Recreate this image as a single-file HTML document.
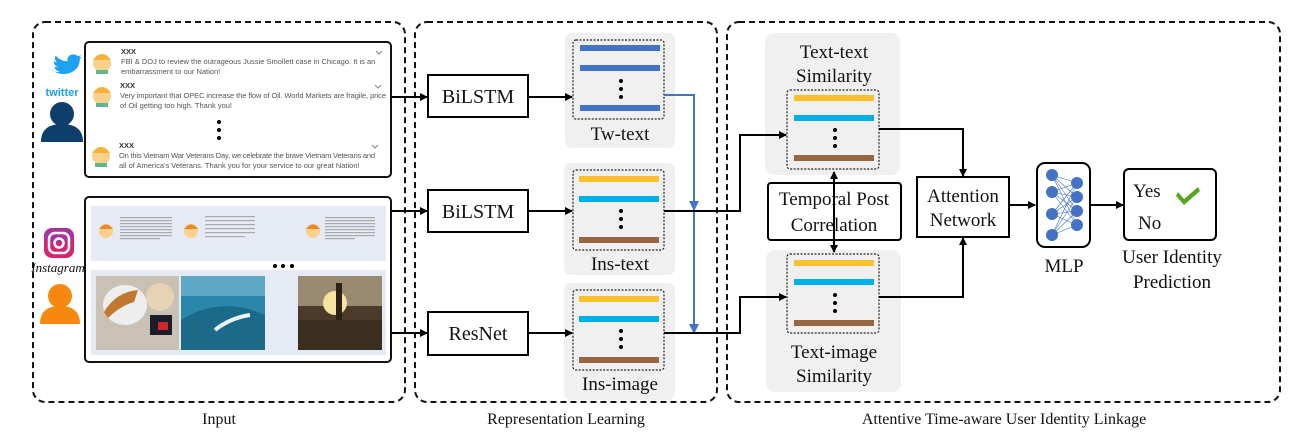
<!DOCTYPE html>
<html><head><meta charset="utf-8"><style>
html,body{margin:0;padding:0;background:#fff;}
svg{display:block;}
.s{font-family:"Liberation Serif",serif;fill:#111;}
.a{font-family:"Liberation Sans",sans-serif;fill:#555;}
</style></head><body>
<svg width="1315" height="445" viewBox="0 0 1315 445" xmlns="http://www.w3.org/2000/svg">
<defs>
<marker id="ar" markerWidth="8" markerHeight="8" refX="7" refY="4" orient="auto" markerUnits="userSpaceOnUse"><path d="M0,0 L8,4 L0,8 z" fill="#000"/></marker>
<marker id="ab" markerWidth="10" markerHeight="10" refX="9" refY="5" orient="auto" markerUnits="userSpaceOnUse"><path d="M0,0 L10,5 L0,10 z" fill="#4472C4"/></marker>
<marker id="as" markerWidth="8" markerHeight="8" refX="1" refY="4" orient="auto" markerUnits="userSpaceOnUse"><path d="M8,0 L0,4 L8,8 z" fill="#000"/></marker>
</defs>
<g fill="none" stroke="#111" stroke-width="2" stroke-dasharray="6,4">
<rect x="33" y="22" width="372" height="380" rx="12"/>
<rect x="415" y="22" width="302" height="380" rx="12"/>
<rect x="727" y="22" width="553" height="380" rx="12"/>
</g>
<text class="s" x="219" y="424" font-size="16" text-anchor="middle">Input</text>
<text class="s" x="566" y="424" font-size="16" text-anchor="middle">Representation Learning</text>
<text class="s" x="1004" y="424" font-size="16" text-anchor="middle">Attentive Time-aware User Identity Linkage</text>

<g transform="translate(50,50) scale(0.62) translate(-47,-45)">
<path d="M47,76 q8,6 16,4 q-8,-2 -9,-8 q3,1 5,0 q-6,-2 -6,-9 q2,2 5,2 q-5,-5 -2,-11 q8,9 19,9 q-1,-9 9,-11 q5,0 8,3 l5,-2 l-3,4 l4,-1 l-3,4 q0,16 -16,22 q-14,5 -28,-4z" fill="#1DA1F2"/>
</g>
<text x="62" y="96" font-family="Liberation Sans,sans-serif" font-weight="bold" font-size="11" fill="#1DA1F2" text-anchor="middle">twitter</text>
<circle cx="62" cy="114" r="12" fill="#0e3e6b"/>
<path d="M41,142 q0,-18 21,-18 q21,0 21,18z" fill="#0e3e6b"/>
<rect x="44" y="228" width="30" height="30" rx="8" fill="#d6246e"/>
<rect x="44" y="228" width="30" height="15" rx="8" fill="#8a3ab9" opacity="0.6"/>
<rect x="49" y="233" width="20" height="20" rx="6" fill="none" stroke="#fff" stroke-width="2.5"/>
<circle cx="59" cy="243" r="4.5" fill="none" stroke="#fff" stroke-width="2.5"/>
<text x="58" y="272" font-family="Liberation Serif,serif" font-style="italic" font-size="13" fill="#111" text-anchor="middle">Instagram</text>
<circle cx="60" cy="296" r="12" fill="#f7880f"/>
<path d="M40,324 q0,-18 20,-18 q20,0 20,18z" fill="#f7880f"/>

<rect x="85" y="42" width="306" height="135" rx="4" fill="#fff" stroke="#111" stroke-width="2"/>
<g>
<circle cx="102" cy="63" r="9" fill="#fbd08a"/><path d="M93,60 q9,-12 18,0z" fill="#f4b23a"/><rect x="96" y="70" width="12" height="4" fill="#5cb88a"/>
<circle cx="102" cy="96" r="9" fill="#fbd08a"/><path d="M93,93 q9,-12 18,0z" fill="#f4b23a"/><rect x="96" y="103" width="12" height="4" fill="#5cb88a"/>
<circle cx="101" cy="156" r="9" fill="#fbd08a"/><path d="M92,153 q9,-12 18,0z" fill="#f4b23a"/><rect x="95" y="163" width="12" height="4" fill="#5cb88a"/>
</g>
<g class="a" font-size="7.5">
<text x="121" y="54" font-weight="bold" fill="#333">XXX</text>
<text x="121" y="64">FBI &amp; DOJ to review the outrageous Jussie Smollett case in Chicago. It is an</text>
<text x="121" y="74">embarrassment to our Nation!</text>
<text x="120" y="88" font-weight="bold" fill="#333">XXX</text>
<text x="120" y="98" textLength="266">Very important that OPEC increase the flow of Oil. World Markets are fragile, price</text>
<text x="120" y="108">of Oil getting too high. Thank you!</text>
<text x="119" y="148" font-weight="bold" fill="#333">XXX</text>
<text x="119" y="158" textLength="256">On this Vietnam War Veterans Day, we celebrate the brave Vietnam Veterans and</text>
<text x="119" y="168">all of America's Veterans. Thank you for your service to our great Nation!</text>
</g>
<g fill="none" stroke="#888" stroke-width="1"><path d="M376,51 l3,3 l3,-3"/><path d="M375,85 l3,3 l3,-3"/><path d="M372,145 l3,3 l3,-3"/></g>
<circle cx="219" cy="122" r="2" fill="#000"/><circle cx="219" cy="130" r="2" fill="#000"/><circle cx="219" cy="138" r="2" fill="#000"/>

<rect x="85" y="197" width="306" height="165" rx="4" fill="#fff" stroke="#111" stroke-width="2"/>
<rect x="91" y="206" width="295" height="55" fill="#e5eaf4"/>
<rect x="91" y="270" width="295" height="85" fill="#e5eaf4"/>
<g><circle cx="106" cy="231" r="7" fill="#fbd08a"/><path d="M99,229 q7,-9 14,0z" fill="#e8892a"/>
<circle cx="191" cy="231" r="7" fill="#fbd08a"/><path d="M184,229 q7,-9 14,0z" fill="#e8892a"/>
<circle cx="313" cy="231" r="7" fill="#fbd08a"/><path d="M306,229 q7,-9 14,0z" fill="#e8892a"/></g>
<g fill="#aaa"><rect x="120" y="217" width="52" height="1.2"/><rect x="120" y="220" width="52" height="1.2"/><rect x="120" y="223" width="52" height="1.2"/><rect x="120" y="226" width="52" height="1.2"/><rect x="120" y="229" width="52" height="1.2"/><rect x="120" y="232" width="52" height="1.2"/><rect x="120" y="235" width="52" height="1.2"/><rect x="120" y="238" width="40" height="1.2"/>
<rect x="205" y="216" width="50" height="1.2"/><rect x="205" y="220" width="50" height="1.2"/><rect x="205" y="224" width="50" height="1.2"/><rect x="205" y="228" width="50" height="1.2"/><rect x="205" y="232" width="50" height="1.2"/><rect x="205" y="236" width="40" height="1.2"/>
<rect x="325" y="217" width="50" height="1.2"/><rect x="325" y="220" width="50" height="1.2"/><rect x="325" y="223" width="50" height="1.2"/><rect x="325" y="226" width="50" height="1.2"/><rect x="325" y="229" width="50" height="1.2"/><rect x="325" y="232" width="50" height="1.2"/><rect x="325" y="235" width="50" height="1.2"/><rect x="325" y="238" width="30" height="1.2"/></g>
<circle cx="275" cy="266" r="2" fill="#000"/><circle cx="283" cy="266" r="2" fill="#000"/><circle cx="292" cy="266" r="2" fill="#000"/>
<rect x="96" y="276" width="83" height="74" fill="#c9c2b4"/>
<ellipse cx="125" cy="305" rx="22" ry="20" fill="#eee"/>
<path d="M104,312 q12,-20 34,-22 l-4,12 q-14,4 -26,16z" fill="#c2782e"/>
<circle cx="160" cy="297" r="14" fill="#e6d2b5"/>
<rect x="150" y="315" width="22" height="20" fill="#1b1d2a"/><rect x="158" y="322" width="10" height="8" fill="#d1242a"/>
<rect x="181" y="276" width="84" height="74" fill="#2a87aa"/>
<rect x="181" y="276" width="84" height="20" fill="#5da9c5"/>
<path d="M181,320 q40,-25 84,-5 l0,35 l-84,0z" fill="#1c6a8a"/>
<path d="M215,330 q15,-12 35,-15" stroke="#e9f4f6" stroke-width="4" fill="none"/>
<rect x="298" y="276" width="84" height="74" fill="#4b3a2a"/>
<rect x="298" y="276" width="84" height="30" fill="#9b8a72"/>
<circle cx="335" cy="303" r="12" fill="#f7e3a0"/>
<rect x="336" y="283" width="6" height="40" fill="#2c2118"/>
<rect x="298" y="320" width="84" height="30" fill="#3b3020"/>

<g fill="#f0f0f0">
<rect x="565" y="33" width="110" height="115" rx="7"/>
<rect x="564" y="163" width="111" height="112" rx="7"/>
<rect x="564" y="283" width="111" height="117" rx="7"/>
<rect x="765" y="33" width="135" height="142" rx="9"/>
<rect x="766" y="250" width="135" height="142" rx="9"/>
</g>
<g fill="none" stroke="#222" stroke-width="1.2" stroke-dasharray="2,1.5">
<rect x="573" y="40" width="91" height="79" rx="3"/>
<rect x="573" y="170" width="91" height="80" rx="3"/>
<rect x="573" y="290" width="91" height="80" rx="3"/>
<rect x="787" y="90" width="92" height="79" rx="3"/>
<rect x="787" y="254" width="92" height="79" rx="3"/>
</g>
<g>
<rect x="580" y="45" width="80" height="6" fill="#4472C4"/><rect x="580" y="65" width="80" height="6" fill="#4472C4"/><rect x="580" y="105" width="80" height="6" fill="#4472C4"/>
<rect x="579" y="176" width="80" height="6" fill="#FBC02D"/><rect x="579" y="196" width="80" height="6" fill="#03AEEB"/><rect x="579" y="237" width="80" height="6" fill="#986640"/>
<rect x="579" y="296" width="80" height="6" fill="#FBC02D"/><rect x="579" y="316" width="80" height="6" fill="#03AEEB"/><rect x="579" y="357" width="80" height="6" fill="#986640"/>
<rect x="794" y="95" width="80" height="6" fill="#FBC02D"/><rect x="794" y="115" width="80" height="6" fill="#03AEEB"/><rect x="794" y="155" width="80" height="6" fill="#986640"/>
<rect x="794" y="260" width="80" height="6" fill="#FBC02D"/><rect x="794" y="279" width="80" height="6" fill="#03AEEB"/><rect x="794" y="320" width="80" height="6" fill="#986640"/>
</g>
<g fill="#000">
<circle cx="621" cy="81" r="2"/><circle cx="621" cy="89" r="2"/><circle cx="621" cy="97" r="2"/>
<circle cx="621" cy="211" r="2"/><circle cx="621" cy="219" r="2"/><circle cx="621" cy="227" r="2"/>
<circle cx="621" cy="331" r="2"/><circle cx="621" cy="339" r="2"/><circle cx="621" cy="347" r="2"/>
<circle cx="835" cy="130" r="2"/><circle cx="835" cy="138" r="2"/><circle cx="835" cy="146" r="2"/>
<circle cx="835" cy="295" r="2"/><circle cx="835" cy="303" r="2"/><circle cx="835" cy="311" r="2"/>
</g>
<g class="s" font-size="19" text-anchor="middle">
<text x="620" y="140">Tw-text</text>
<text x="620" y="270">Ins-text</text>
<text x="620" y="390">Ins-image</text>
<text x="834" y="58">Text-text</text>
<text x="834" y="82">Similarity</text>
<text x="834" y="358">Text-image</text>
<text x="834" y="382">Similarity</text>
</g>

<g stroke="#000" stroke-width="2" fill="none">
<path d="M391,97 H427" marker-end="url(#ar)"/>
<path d="M391,211 H427" marker-end="url(#ar)"/>
<path d="M391,333 H427" marker-end="url(#ar)"/>
<path d="M528,97 H572" marker-end="url(#ar)"/>
<path d="M528,211 H572" marker-end="url(#ar)"/>
<path d="M528,333 H572" marker-end="url(#ar)"/>
</g>
<g fill="#fff" stroke="#000" stroke-width="2">
<rect x="428" y="75" width="100" height="42"/>
<rect x="428" y="190" width="100" height="42"/>
<rect x="428" y="312" width="100" height="43"/>
</g>
<g class="s" font-size="20" text-anchor="middle">
<text x="478" y="103">BiLSTM</text><text x="478" y="218">BiLSTM</text><text x="478" y="340">ResNet</text>
</g>

<g stroke="#4472C4" stroke-width="2" fill="none">
<path d="M664,95 H694 V210" marker-end="url(#ab)"/>
<path d="M694,210 V333" marker-end="url(#ab)"/>
</g>
<g stroke="#000" stroke-width="2" fill="none">
<path d="M664,211 H740 V135 H786" marker-end="url(#ar)"/>
<path d="M664,333 H740 V297 H786" marker-end="url(#ar)"/>
<path d="M879,129 H963 V176" marker-end="url(#ar)"/>
<path d="M879,297 H963 V238" marker-end="url(#ar)"/>
<path d="M1009,205 H1035" marker-end="url(#ar)"/>
<path d="M1090,205 H1123" marker-end="url(#ar)"/>
</g>
<rect x="768" y="183" width="133" height="57" rx="3" fill="#fff" stroke="#000" stroke-width="2"/>
<text class="s" x="834" y="205" font-size="19" text-anchor="middle">Temporal Post</text>
<text class="s" x="834" y="231" font-size="19" text-anchor="middle">Correlation</text>
<path d="M834,172 V252" stroke="#000" stroke-width="2" marker-end="url(#ar)" marker-start="url(#as)"/>
<rect x="917" y="177" width="92" height="60" fill="#fff" stroke="#000" stroke-width="2"/>
<text class="s" x="963" y="202" font-size="19" text-anchor="middle">Attention</text>
<text class="s" x="963" y="226" font-size="19" text-anchor="middle">Network</text>
<rect x="1037" y="163" width="53" height="84" rx="8" fill="#fff" stroke="#000" stroke-width="2"/>
<g stroke="#4472C4" stroke-width="0.6">
<path d="M1052,175 L1077,183 M1052,175 L1077,197 M1052,175 L1077,211 M1052,175 L1077,225 M1052,192 L1077,183 M1052,192 L1077,197 M1052,192 L1077,211 M1052,192 L1077,225 M1052,214 L1077,183 M1052,214 L1077,197 M1052,214 L1077,211 M1052,214 L1077,225 M1052,235 L1077,183 M1052,235 L1077,197 M1052,235 L1077,211 M1052,235 L1077,225"/>
</g>
<g fill="#4472C4"><circle cx="1052" cy="175" r="6"/><circle cx="1052" cy="192" r="6"/><circle cx="1052" cy="214" r="6"/><circle cx="1052" cy="235" r="6"/>
<circle cx="1077" cy="183" r="6"/><circle cx="1077" cy="197" r="6"/><circle cx="1077" cy="211" r="6"/><circle cx="1077" cy="225" r="6"/></g>
<text class="s" x="1064" y="272" font-size="19" text-anchor="middle">MLP</text>
<rect x="1124" y="169" width="92" height="71" rx="5" fill="#fff" stroke="#000" stroke-width="2"/>
<text class="s" x="1133" y="197" font-size="19">Yes</text>
<text class="s" x="1138" y="229" font-size="19">No</text>
<path d="M1178,192 l6,7 l14,-12 l2,4 l-16,14 l-8,-9z" fill="#5aa51e"/>
<text class="s" x="1172" y="263" font-size="19" text-anchor="middle">User Identity</text>
<text class="s" x="1172" y="288" font-size="19" text-anchor="middle">Prediction</text>
</svg>
</body></html>
